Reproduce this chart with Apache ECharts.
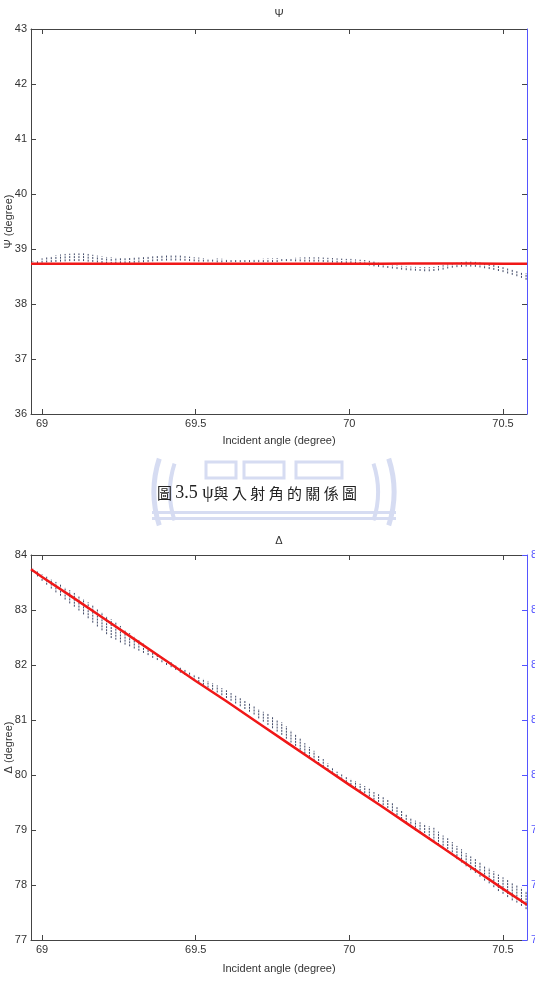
<!DOCTYPE html>
<html>
<head>
<meta charset="utf-8">
<script src="https://cdn.jsdelivr.net/npm/echarts@6/dist/echarts.min.js"></script>
<style>
  html, body { margin: 0; padding: 0; background: #fff; }
  #chart { width: 535px; height: 1001px; }
</style>
</head>
<body>
<div id="chart"></div>
<script>
// measured angles (degree)
const angles = [68.970,68.985,69.000,69.015,69.030,69.045,69.060,69.075,69.090,69.105,
  69.120,69.135,69.150,69.165,69.180,69.195,69.210,69.225,69.240,69.255,
  69.270,69.285,69.300,69.315,69.330,69.345,69.360,69.375,69.390,69.405,
  69.420,69.435,69.450,69.465,69.480,69.495,69.510,69.525,69.540,69.555,
  69.570,69.585,69.600,69.615,69.630,69.645,69.660,69.675,69.690,69.705,
  69.720,69.735,69.750,69.765,69.780,69.795,69.810,69.825,69.840,69.855,
  69.870,69.885,69.900,69.915,69.930,69.945,69.960,69.975,69.990,70.005,
  70.020,70.035,70.050,70.065,70.080,70.095,70.110,70.125,70.140,70.155,
  70.170,70.185,70.200,70.215,70.230,70.245,70.260,70.275,70.290,70.305,
  70.320,70.335,70.350,70.365,70.380,70.395,70.410,70.425,70.440,70.455,
  70.470,70.485,70.500,70.515,70.530,70.545,70.560,70.575];

// Psi measured spread (upper / lower end of each dotted column)
const psiHigh = [38.76,38.79,38.83,38.85,38.87,38.885,38.90,38.91,38.915,38.92,
  38.92,38.92,38.91,38.895,38.88,38.865,38.855,38.85,38.845,38.84,
  38.84,38.845,38.85,38.855,38.86,38.87,38.875,38.88,38.885,38.89,
  38.89,38.885,38.88,38.87,38.86,38.85,38.845,38.835,38.825,38.82,
  38.81,38.805,38.80,38.795,38.79,38.79,38.79,38.795,38.80,38.80,
  38.805,38.81,38.81,38.815,38.82,38.83,38.835,38.84,38.845,38.85,
  38.85,38.85,38.85,38.845,38.84,38.835,38.83,38.825,38.82,38.82,
  38.81,38.805,38.80,38.785,38.77,38.75,38.73,38.72,38.71,38.70,
  38.695,38.685,38.68,38.675,38.67,38.67,38.67,38.675,38.69,38.705,
  38.72,38.735,38.75,38.76,38.77,38.77,38.765,38.755,38.74,38.725,
  38.71,38.69,38.67,38.645,38.62,38.60,38.58,38.56];
const psiLow = [38.73,38.74,38.75,38.755,38.76,38.765,38.77,38.775,38.78,38.78,
  38.78,38.78,38.77,38.765,38.755,38.745,38.735,38.73,38.735,38.74,
  38.74,38.745,38.75,38.755,38.76,38.765,38.775,38.78,38.785,38.79,
  38.79,38.79,38.79,38.785,38.78,38.775,38.77,38.77,38.77,38.77,
  38.775,38.775,38.78,38.78,38.78,38.78,38.78,38.78,38.78,38.78,
  38.78,38.78,38.78,38.78,38.78,38.78,38.78,38.775,38.775,38.77,
  38.77,38.77,38.77,38.765,38.76,38.755,38.75,38.745,38.74,38.74,
  38.735,38.725,38.72,38.70,38.685,38.675,38.665,38.655,38.645,38.635,
  38.625,38.615,38.61,38.605,38.60,38.595,38.595,38.60,38.61,38.625,
  38.645,38.66,38.67,38.675,38.68,38.68,38.675,38.665,38.65,38.635,
  38.62,38.60,38.58,38.555,38.53,38.505,38.475,38.44];

// Delta measured spread
const deltaHigh = [83.75,83.70,83.65,83.61,83.56,83.51,83.46,83.41,83.36,83.31,
  83.26,83.20,83.14,83.08,83.01,82.96,82.89,82.83,82.77,82.71,
  82.64,82.58,82.52,82.45,82.39,82.31,82.24,82.20,82.15,82.09,
  82.05,81.99,81.95,81.91,81.87,81.83,81.80,81.75,81.71,81.67,
  81.63,81.58,81.54,81.49,81.44,81.40,81.35,81.30,81.26,81.20,
  81.15,81.11,81.05,81.00,80.96,80.89,80.81,80.74,80.66,80.58,
  80.51,80.44,80.36,80.29,80.21,80.13,80.06,80.01,79.97,79.93,
  79.89,79.84,79.80,79.75,79.69,79.65,79.60,79.55,79.49,79.42,
  79.35,79.29,79.22,79.17,79.14,79.11,79.07,79.04,78.97,78.90,
  78.85,78.78,78.71,78.65,78.58,78.52,78.47,78.41,78.35,78.31,
  78.25,78.19,78.14,78.09,78.04,78.00,77.95,77.89];
const deltaLow = [83.69,83.61,83.53,83.46,83.39,83.32,83.26,83.19,83.12,83.06,
  82.99,82.92,82.85,82.77,82.70,82.63,82.56,82.49,82.46,82.41,
  82.37,82.34,82.30,82.26,82.22,82.18,82.13,82.09,82.05,82.00,
  81.96,81.91,81.86,81.82,81.77,81.72,81.69,81.64,81.59,81.55,
  81.50,81.45,81.40,81.35,81.30,81.25,81.20,81.15,81.10,81.03,
  80.97,80.91,80.85,80.79,80.73,80.66,80.59,80.53,80.46,80.39,
  80.33,80.26,80.20,80.15,80.09,80.03,79.98,79.92,79.87,79.82,
  79.77,79.71,79.67,79.61,79.55,79.51,79.45,79.40,79.34,79.27,
  79.20,79.13,79.06,78.99,78.95,78.89,78.84,78.79,78.73,78.66,
  78.60,78.54,78.47,78.41,78.34,78.27,78.22,78.15,78.08,78.03,
  77.96,77.89,77.84,77.78,77.72,77.68,77.62,77.56];

// fitted curves (red)
const fitAngles = [68.964,69.0,69.1,69.2,69.3,69.4,69.5,69.6,69.7,69.8,69.9,70.0,70.1,70.2,70.3,70.4,70.5,70.578];
const psiFit = [38.73,38.73,38.73,38.73,38.73,38.73,38.73,38.73,38.73,38.73,38.73,38.73,38.73,38.735,38.735,38.735,38.73,38.73];
const deltaFit = [83.74,83.60,83.23,82.85,82.47,82.09,81.71,81.34,80.96,80.58,80.20,79.82,79.45,79.07,78.69,78.31,77.93,77.64];

const xTicks = [69, 69.5, 70, 70.5];
const psiTicks = [36, 43];
const deltaTicks = [77, 84];

const chart = echarts.init(document.getElementById('chart'));

const axisColor = '#444';
const blue = '#5555ff';
const font = 'Liberation Sans, Arial, sans-serif';

function spread(hi, lo) {
  return angles.map((a, i) => [a, lo[i], hi[i]]);
}

function renderDots(params, api) {
  const x = api.value(0);
  const p1 = api.coord([x, api.value(1)]);
  const p2 = api.coord([x, api.value(2)]);
  let y1 = p1[1], y2 = p2[1];
  if (Math.abs(y1 - y2) < 2) { y1 += 1; y2 -= 1; }
  return {
    type: 'line',
    shape: {x1: p1[0], y1: y1, x2: p2[0], y2: y2},
    style: {stroke: '#3f4866', lineWidth: 1, lineDash: [2, 1]}
  };
}

function bottomX(grid, gap) {
  return {
    type: 'value', gridIndex: grid, position: 'bottom',
    min: 68.964, max: 70.578,
    name: 'Incident angle (degree)', nameLocation: 'middle', nameGap: gap,
    nameMoveOverlap: false,
    nameTextStyle: {fontFamily: font, fontSize: 11, color: '#333'},
    axisLine: {onZero: false, lineStyle: {color: axisColor, width: 1}},
    axisTick: {inside: true, length: 5, lineStyle: {color: axisColor}, customValues: xTicks},
    axisLabel: {fontFamily: font, fontSize: 11, color: '#333', margin: 4, customValues: xTicks},
    splitLine: {show: false}
  };
}
function topX(grid) {
  return {
    type: 'value', gridIndex: grid, position: 'top',
    min: 68.964, max: 70.578,
    axisLine: {onZero: false, lineStyle: {color: axisColor, width: 1}},
    axisTick: {inside: true, length: 5, lineStyle: {color: axisColor}, customValues: xTicks},
    axisLabel: {show: false},
    splitLine: {show: false}
  };
}
function leftY(grid, range, name) {
  return {
    type: 'value', gridIndex: grid, position: 'left',
    min: range[0], max: range[1], interval: 1,
    name: name, nameLocation: 'middle', nameGap: 17, nameRotate: 90,
    nameMoveOverlap: false,
    nameTextStyle: {fontFamily: font, fontSize: 11, color: '#333'},
    axisLine: {show: true, onZero: false, lineStyle: {color: axisColor, width: 1}},
    axisTick: {show: true, inside: true, length: 5, lineStyle: {color: axisColor}},
    axisLabel: {fontFamily: font, fontSize: 11, color: '#333', margin: 4},
    splitLine: {show: false}
  };
}
function rightY(grid, range, labels) {
  return {
    type: 'value', gridIndex: grid, position: 'right',
    min: range[0], max: range[1], interval: 1,
    axisLine: {show: true, onZero: false, lineStyle: {color: blue, width: 1}},
    axisTick: {show: true, inside: true, length: 5, lineStyle: {color: labels ? blue : axisColor}},
    axisLabel: {show: labels, fontFamily: font, fontSize: 11, color: blue, margin: 4},
    splitLine: {show: false},
    z: 5
  };
}

const wm = '#d6dcf2';

const option = {
  animation: false,
  backgroundColor: '#fff',
  grid: [
    {left: 31, top: 29, width: 496, height: 385, outerBoundsMode: 'none', containLabel: false},
    {left: 31, top: 555, width: 496, height: 385, outerBoundsMode: 'none', containLabel: false}
  ],
  xAxis: [bottomX(0, 21), topX(0), bottomX(1, 23), topX(1)],
  yAxis: [
    leftY(0, psiTicks, 'Ψ (degree)'),
    rightY(0, psiTicks, false),
    leftY(1, deltaTicks, 'Δ (degree)'),
    rightY(1, deltaTicks, true)
  ],
  graphic: [
    // faint watermark behind the caption
    {type: 'arc', silent: true, z: 0, shape: {cx: 262, cy: 492, r: 108, startAngle: Math.PI * 0.9, endAngle: Math.PI * 1.1}, style: {stroke: wm, lineWidth: 5, fill: null}},
    {type: 'arc', silent: true, z: 0, shape: {cx: 262, cy: 492, r: 92, startAngle: Math.PI * 0.9, endAngle: Math.PI * 1.1}, style: {stroke: wm, lineWidth: 4, fill: null}},
    {type: 'arc', silent: true, z: 0, shape: {cx: 286, cy: 492, r: 108, startAngle: -Math.PI * 0.1, endAngle: Math.PI * 0.1}, style: {stroke: wm, lineWidth: 5, fill: null}},
    {type: 'arc', silent: true, z: 0, shape: {cx: 286, cy: 492, r: 92, startAngle: -Math.PI * 0.1, endAngle: Math.PI * 0.1}, style: {stroke: wm, lineWidth: 4, fill: null}},
    {type: 'rect', silent: true, z: 0, shape: {x: 206, y: 462, width: 30, height: 16}, style: {fill: null, stroke: wm, lineWidth: 3}},
    {type: 'rect', silent: true, z: 0, shape: {x: 244, y: 462, width: 40, height: 16}, style: {fill: null, stroke: wm, lineWidth: 3}},
    {type: 'rect', silent: true, z: 0, shape: {x: 296, y: 462, width: 46, height: 16}, style: {fill: null, stroke: wm, lineWidth: 3}},
    {type: 'rect', silent: true, z: 0, shape: {x: 152, y: 511, width: 244, height: 3}, style: {fill: wm}},
    {type: 'rect', silent: true, z: 0, shape: {x: 152, y: 517, width: 244, height: 3}, style: {fill: wm}},
    // titles and caption
    {type: 'text', x: 279, y: 14, style: {text: 'Ψ', fontFamily: font, fontSize: 11, fill: '#333', align: 'center', verticalAlign: 'middle'}},
    {type: 'text', x: 279, y: 541, style: {text: 'Δ', fontFamily: font, fontSize: 11, fill: '#333', align: 'center', verticalAlign: 'middle'}},
    {type: 'text', x: 257, y: 493, z: 10, style: {
      text: '{a|圖 }{b|3.5 ψ}{a|與 入 射 角 的 關 係 圖}',
      align: 'center', verticalAlign: 'middle',
      rich: {
        a: {fontFamily: 'Noto Sans CJK TC', fontSize: 15, fill: '#222'},
        b: {fontFamily: 'Liberation Serif', fontSize: 18, fill: '#222'}
      }
    }}
  ],
  series: [
    {
      type: 'custom', name: 'Ψ measured', xAxisIndex: 0, yAxisIndex: 0,
      data: spread(psiHigh, psiLow), encode: {x: 0, y: [1, 2]},
      renderItem: renderDots, clip: true, z: 2
    },
    {
      type: 'line', name: 'Ψ fit', xAxisIndex: 0, yAxisIndex: 0,
      data: fitAngles.map((a, i) => [a, psiFit[i]]),
      showSymbol: false, lineStyle: {color: '#f01818', width: 2.5}, z: 3
    },
    {
      type: 'custom', name: 'Δ measured', xAxisIndex: 2, yAxisIndex: 2,
      data: spread(deltaHigh, deltaLow), encode: {x: 0, y: [1, 2]},
      renderItem: renderDots, clip: true, z: 2
    },
    {
      type: 'line', name: 'Δ fit', xAxisIndex: 2, yAxisIndex: 2,
      data: fitAngles.map((a, i) => [a, deltaFit[i]]),
      showSymbol: false, lineStyle: {color: '#f01818', width: 2.5}, z: 3
    }
  ]
};

chart.setOption(option);
</script>
</body>
</html>
